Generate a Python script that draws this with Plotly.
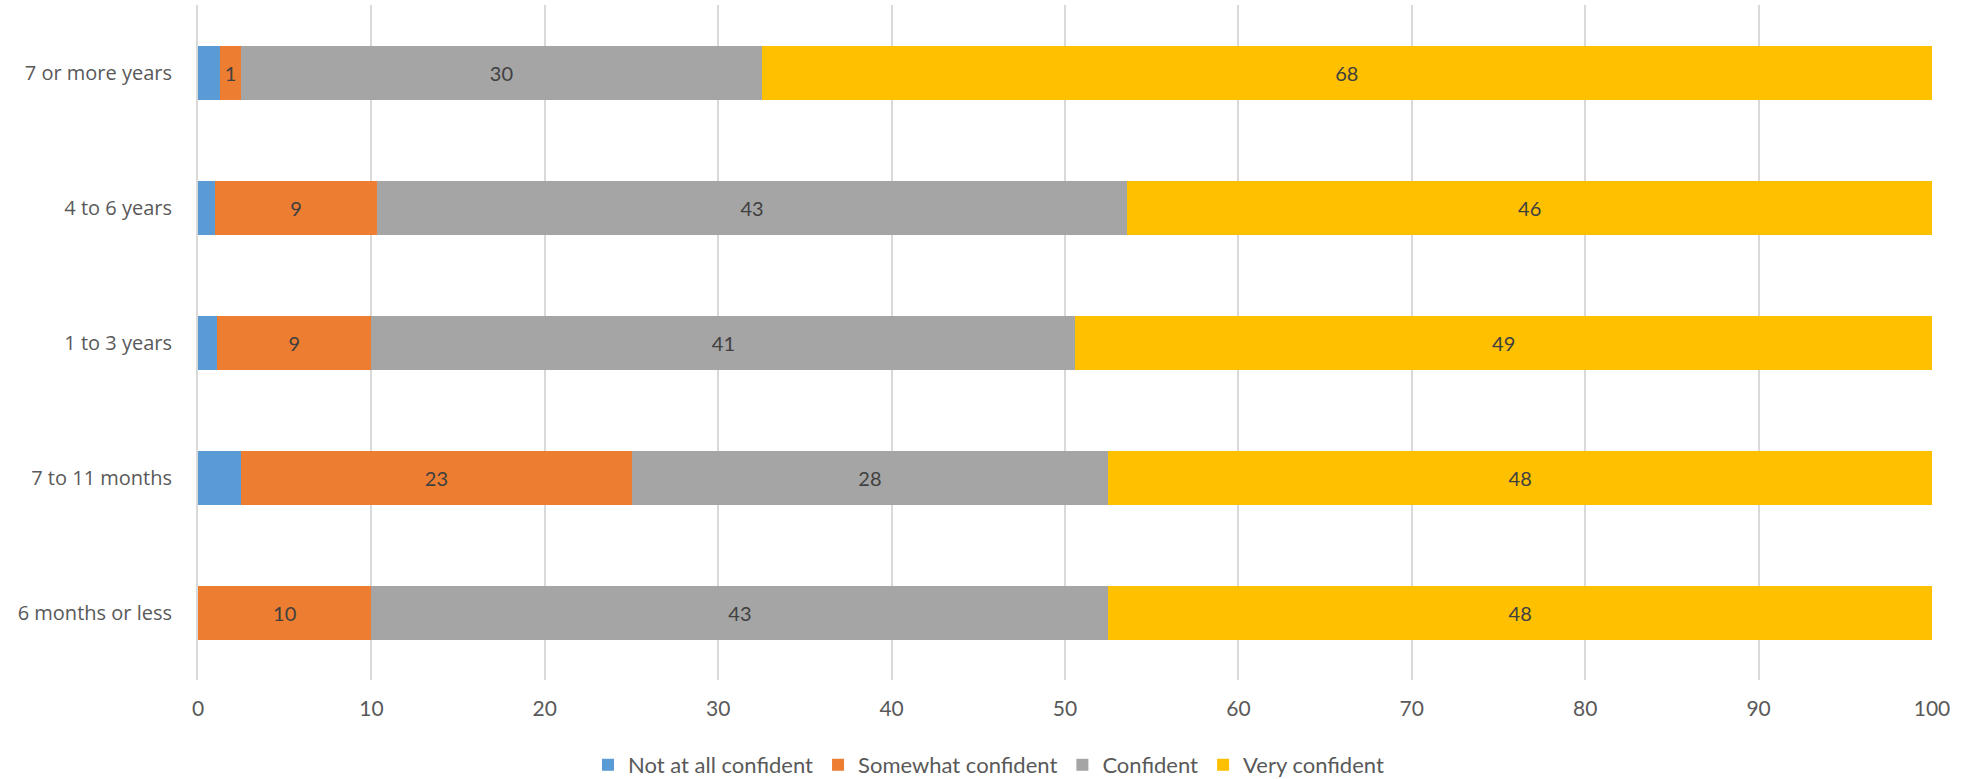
import plotly.graph_objects as go

categories = ["6 months or less", "7 to 11 months", "1 to 3 years", "4 to 6 years", "7 or more years"]
not_at_all = [0, 2.5, 1.1, 1.0, 1.25]
somewhat = [10, 22.5, 8.9, 9.3, 1.25]
confident = [42.5, 27.5, 40.6, 43.3, 30]
very = [47.5, 47.5, 49.4, 46.4, 67.5]
x_ticks = [0, 10, 20, 30, 40, 50, 60, 70, 80, 90, 100]

series = [
    ("Not at all confident", not_at_all, "#5B9BD5", False),
    ("Somewhat confident", somewhat, "#ED7D31", True),
    ("Confident", confident, "#A5A5A5", True),
    ("Very confident", very, "#FFC000", True),
]

fig = go.Figure()
for name, vals, color, show_text in series:
    fig.add_trace(go.Bar(
        y=categories, x=vals, name=name, orientation="h",
        marker=dict(color=color, line=dict(width=0)),
        texttemplate="%{x:.0f}" if show_text else None,
        textposition="inside" if show_text else "none",
        insidetextanchor="middle",
        constraintext="none",
        textfont=dict(family="Lato, Open Sans, sans-serif", size=20, color="#404040"),
        hoverinfo="x+name",
    ))

fig.update_layout(
    width=1977, height=779,
    barmode="stack", bargap=0.6,
    plot_bgcolor="white", paper_bgcolor="white",
    margin=dict(l=198, r=45, t=5, b=99),
    xaxis=dict(
        range=[0, 100], tickvals=x_ticks, showgrid=True, gridcolor="#D9D9D9", gridwidth=2,
        zeroline=False, showline=False, ticks="", ticklabelstandoff=14,
        tickfont=dict(family="Lato, Open Sans, sans-serif", size=21, color="#595959"),
    ),
    yaxis=dict(
        showgrid=False, zeroline=False, showline=True, linecolor="#D9D9D9", linewidth=2,
        ticks="", ticklabelstandoff=20,
        tickfont=dict(family="Open Sans, sans-serif", size=20, color="#595959"),
    ),
    legend=dict(
        orientation="h", xref="container", yref="container", x=0.5, xanchor="center",
        y=0.018, yanchor="middle",
        font=dict(family="Lato, Open Sans, sans-serif", size=22, color="#595959"),
        itemwidth=30, traceorder="normal",
    ),
    showlegend=True,
)

fig.write_html("out.html", config={"displayModeBar": False},
               post_script="document.body.style.margin='0';")
